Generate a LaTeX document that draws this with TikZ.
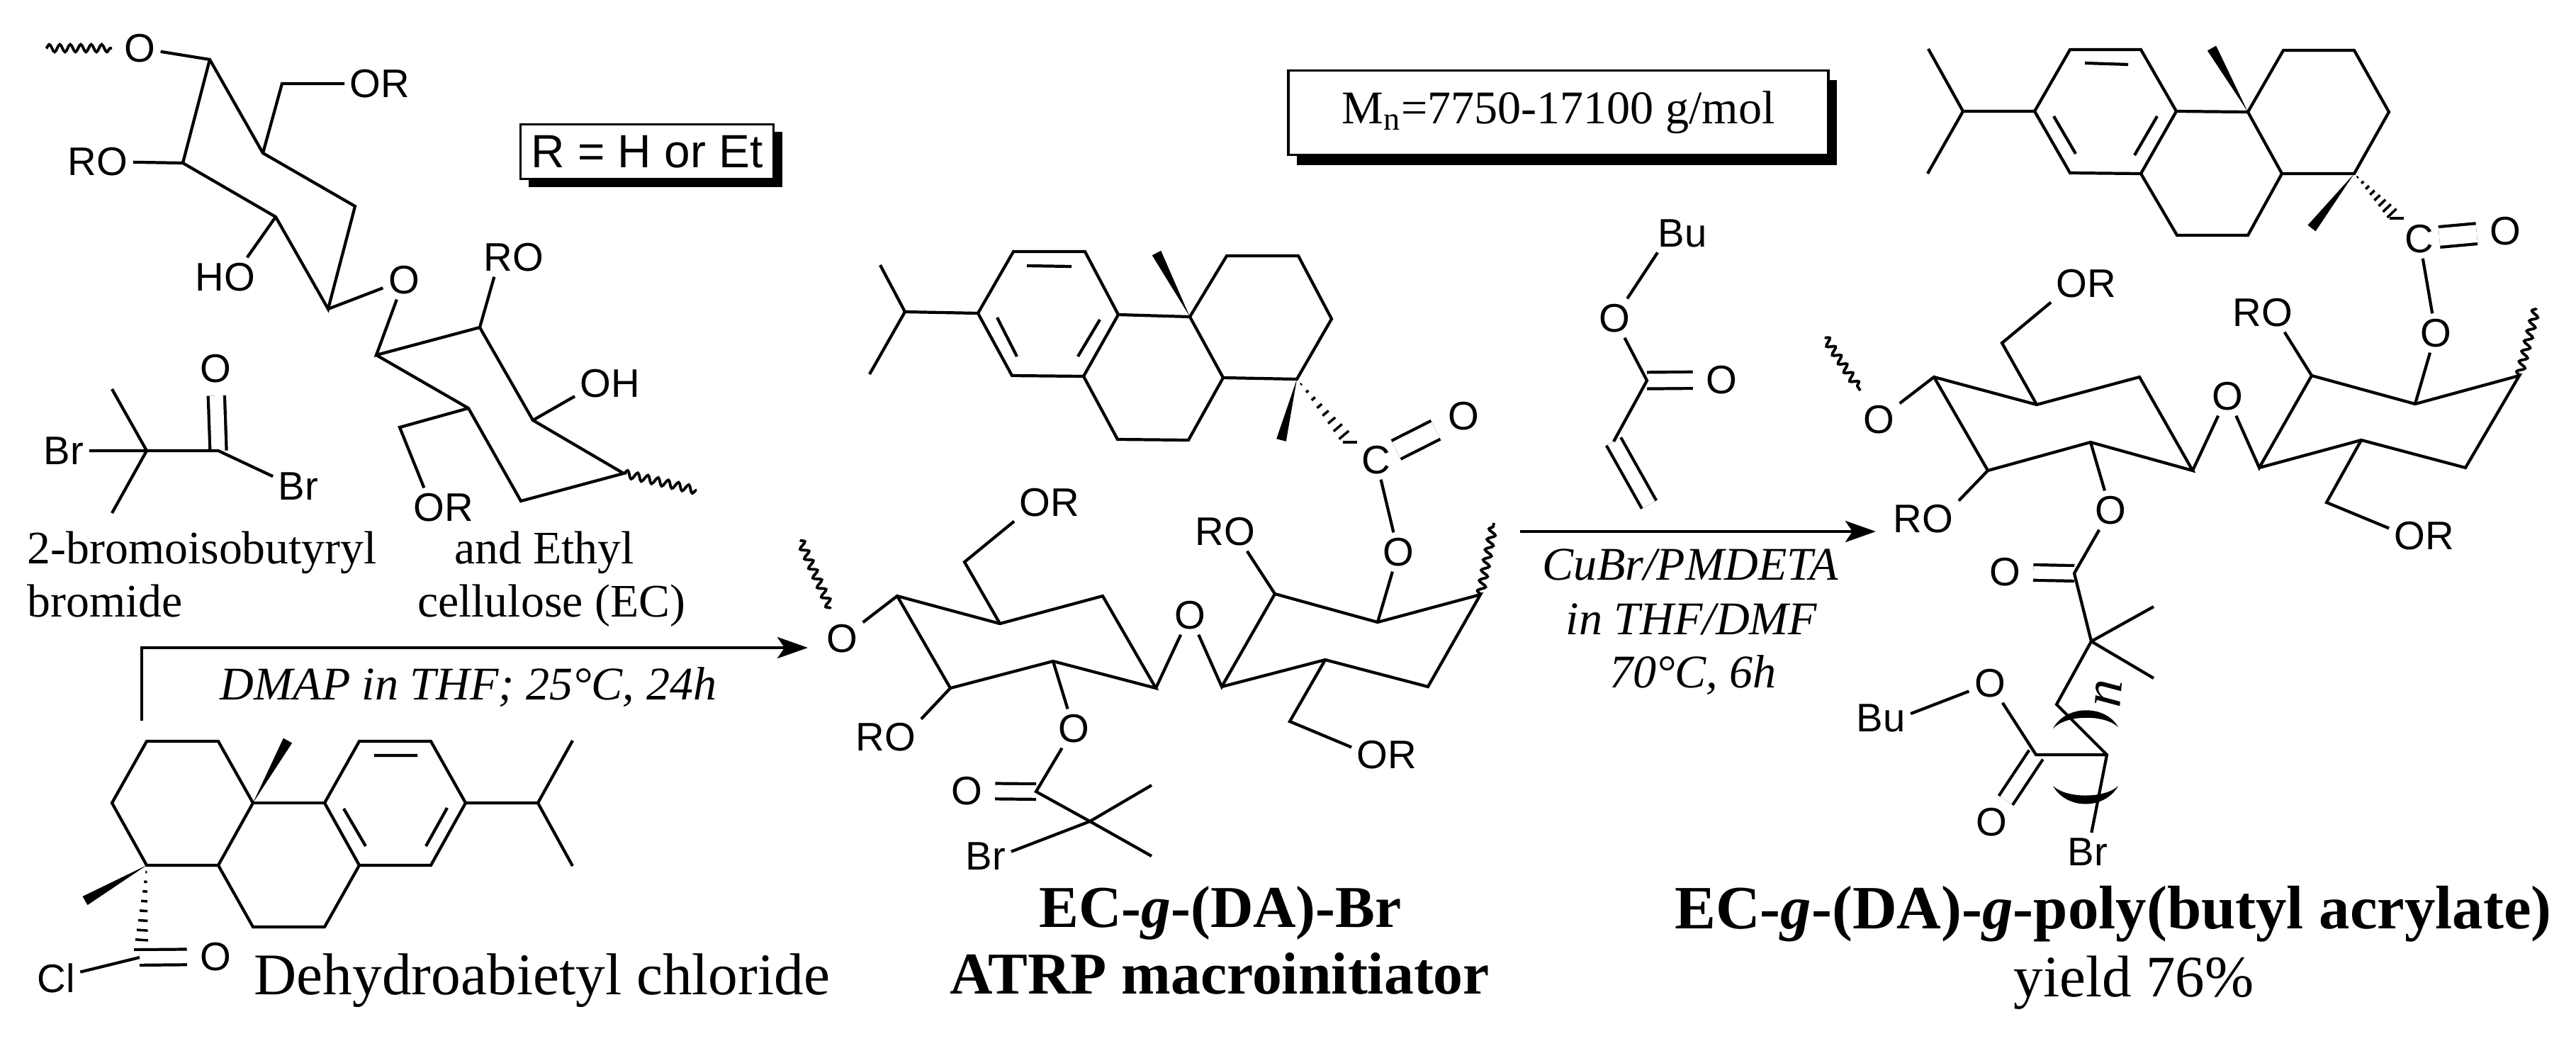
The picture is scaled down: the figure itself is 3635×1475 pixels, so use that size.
\documentclass[tikz,border=0pt]{standalone}
\usepackage{fontspec}
\setmainfont{Liberation Serif}
\setsansfont{Liberation Sans}
\usetikzlibrary{calc,arrows.meta,shadows,decorations.pathmorphing}

\newcommand{\wedgebond}[3]{\fill (#1) -- ($(#2)!#3!90:(#1)$) -- ($(#2)!#3!-90:(#1)$) -- cycle;}
\newcommand{\hashbond}[2]{
  \foreach \t in {0,...,8} {
    \pgfmathsetmacro\hw{0.3+\t*0.32}
    \path (#1) -- (#2) coordinate[pos=0.08+\t*0.115] (hashp);
    \draw[line width=1pt] ($(hashp)!\hw pt!90:(#2)$) -- ($(hashp)!\hw pt!-90:(#2)$);
  }}

\begin{document}
\begin{tikzpicture}[x=0.01cm, y=-0.01cm,
      bond/.style={line width=1.2pt},
      dbl/.style={line width=1.2pt, double, double distance=#1, shorten >=3pt},
      dbl/.default=5.4pt,
      wavy/.style={line width=1.1pt, decorate, decoration={snake, segment length=4.2pt, amplitude=1.5pt}},
      atom/.style={inner sep=2pt, font=\sffamily\fontsize{16}{18}\selectfont},
      caption/.style={inner sep=0pt, anchor=base, font=\fontsize{18.7}{22}\selectfont},
      condition/.style={inner sep=0pt, anchor=base, font=\itshape\fontsize{18.8}{22}\selectfont},
      title/.style={inner sep=0pt, anchor=base, font=\bfseries\fontsize{23.8}{28}\selectfont},
      infobox/.style={draw, fill=white, line width=1pt, inner sep=0pt, minimum width=#1},
      rxn/.style={line width=1.3pt, -{Stealth[length=0.43cm, width=0.3cm, inset=0.1cm]}}]
    \useasboundingbox (0,0) rectangle (3635,1475);

    % carbon positions of the three ring systems
    \foreach \n/\x/\y in {
      dach/759/1133, dam1/808/1045, dam2/808/1222, dar1/657/1133, dar2/608/1046, dar3/507/1046, dar4/458/1133, dar5/507/1221, dar6/608/1221,
      dai1a/589/1066, dai1b/528/1066, dai2a/631/1140, dai2b/601/1194, dai3a/485/1141, dai3b/516/1194,
      daq/357/1133, daqm/406/1045, das1/308/1046, das2/207/1046, das3/158/1133, das4/207/1221, das5/308/1221, dat1/357/1308, dat2/458/1308, damw/120/1271, dahb/199/1340,
      dbch/1277/440, dbm1/1242/374, dbm2/1227/528, dbr1/1380/442, dbr2/1430/355, dbr3/1531/355, dbr4/1578/444, dbr5/1529/531, dbr6/1428/530,
      dbi1a/1449/375, dbi1b/1512/376, dbi2a/1407/448, dbi2b/1435/503, dbi3a/1552/451, dbi3b/1521/503,
      dbq/1679/447, dbqm/1632/357, dbs1/1731/361, dbs2/1832/361, dbs3/1879/450, dbs4/1830/535, dbs5/1726/533, dbt1/1677/621, dbt2/1577/620, dbmw/1808/621, dbhb/1905/624,
      dcch/2770/157, dcm1/2721/69, dcm2/2720/245, dcr1/2871/157, dcr2/2921/70, dcr3/3021/70, dcr4/3071/157, dcr5/3021/245, dcr6/2921/244,
      dci1a/2942/89, dci1b/3003/91, dci2a/2898/164, dci2b/2929/217, dci3a/3044/164, dci3b/3012/219,
      dcq/3172/158, dcqm/3121/68, dcs1/3222/71, dcs2/3322/71, dcs3/3371/158, dcs4/3322/245, dcs5/3220/245, dct1/3172/332, dct2/3072/332, dcmw/3262/322, dchb/3382/308,
      bwa/1129/762, bwb/1172/859, bd1/1266/841, bd2/1411/880, bd3/1556/841, bd4/1631/971, bd5/1486/933, bd6/1341/971, bdm/1361/793,
      be1/1724/969, be2/1799/838, be3/1944/878, be4/2089/839, be5/2015/969, be6/1870/931, bem/1820/1018, bwc/2108/738,
      cwa/2575/476, cwb/2625/551, cd1/2729/532, cd2/2874/571, cd3/3019/532, cd4/3094/664, cd5/2950/624, cd6/2805/664, cdm/2825/484,
      ce1/3188/660, ce2/3262/530, ce3/3408/570, ce4/3555/530, ce5/3479/660, ce6/3332/621, cem/3283/709, cwc/3579/435,
      awa/65/68, awb/158/68, ac1/296/84, ac2/371/216, acm/398/118, ac3/501/291, ac4/463/436, ac5/389/306, ac6/258/230,
      ac7/531/501, ac8/677/462, ac9/752/593, ac10/880/668, ac11/735/707, ac12/661/576, acn/564/603, awc/983/692,
      brq/207/636, brm1/158/549, brm2/158/724, brc/308/636,
      dacarb/197/1351, arrowa/200/1017, arrowb/200/914, arrowc/1140/914, arrowd/2145/750, arrowe/2647/750,
      vinc/2324/537, vinb/2277/623, vind/2327/712,
      bk/1462/1117, bq/1538/1159, bqa/1625/1108, bqb/1625/1208,
      ck/2927/809, cq/2951/905, cqa/3039/856, cqb/3039/957, cn/2902/994, cp/2973/1065, cu/2873/1065}
      \coordinate (\n) at (\x,\y);

    % atom labels
    \foreach \n/\t/\x/\y in {
      ao1/O/197/68, aor1/OR/536/118, aro1/RO/138/228, aho/HO/318/391, ao2/O/570/395, aro2/RO/725/363, aoh/OH/861/541, aor2/OR/626/716,
      brbr1/Br/90/636, brbr2/Br/421/686, bro/O/304/520,
      dao/O/304/1350, dacl/Cl/79/1380,
      bo1/O/1188/901, bor1/OR/1481/709, bro1/RO/1250/1040, bol/O/1679/868, bob/O/1515/1028, bro2/RO/1729/750, boc/O/1973/779, bor2/OR/1957/1065,
      dbc/C/1942/649, dbo/O/2065/587,
      bko/O/1364/1116, bbr/Br/1391/1208,
      co1/O/2651/592, cor1/OR/2944/400, cro1/RO/2714/732, col/O/3143/559, cob/O/2978/720, cro2/RO/3193/441, coc/O/3437/470, cor2/OR/3421/756,
      dcc/C/3414/337, dco/O/3535/326,
      cko/O/2829/807, cbr/Br/2946/1202, cuo/O/2808/964, cubu/Bu/2654/1013, cuk/O/2810/1160,
      vinbu/Bu/2374/329, vino/O/2278/449, vink/O/2429/536}
      \node[atom] (\n) at (\x,\y) {\t};

    % double bonds go first so that the single bonds lie over them
    \draw[dbl] (brc) -- (bro);
    \draw[dbl=5pt] (dacarb) -- (dao);
    \draw[dbl=7pt] (dbc) -- (dbo);
    \draw[dbl=7pt] (dcc) -- (dco);
    \draw[dbl] (vinc) -- (vink);
    \draw[dbl,shorten >=0pt] (vinb) -- (vind);
    \draw[dbl=5pt] (bk) -- (bko);
    \draw[dbl=5pt] (ck) -- (cko);
    \draw[dbl,shorten >=1pt] (cu) -- (cuk);

    % dehydroabietyl units
    \foreach \m in {da,db,dc} {
      \draw[bond] (\m r1) -- (\m r2) -- (\m r3) -- (\m r4) -- (\m r5) -- (\m r6) -- cycle;
      \draw[bond] (\m i1a) -- (\m i1b) (\m i2a) -- (\m i2b) (\m i3a) -- (\m i3b);
      \draw[bond] (\m m1) -- (\m ch) -- (\m m2) (\m ch) -- (\m r1);
      \draw[bond] (\m r4) -- (\m q);
      \draw[bond] (\m q) -- (\m s1) -- (\m s2) -- (\m s3) -- (\m s4) -- (\m s5) -- cycle;
      \draw[bond] (\m s5) -- (\m t1) -- (\m t2) -- (\m r5);
      \wedgebond{\m q}{\m qm}{2pt}
      \wedgebond{\m s4}{\m mw}{2pt}
      \hashbond{\m s4}{\m hb}
    }
    \draw[bond] (dacl) -- (dacarb);
    \draw[bond] (dbc) -- (boc);
    \draw[bond] (dcc) -- (coc);

    % cellulose backbones of the two products
    \foreach \m in {b,c} {
      \draw[wavy] (\m wa) -- (\m wb);
      \draw[wavy] (\m e4) -- (\m wc);
      \draw[bond] (\m o1) -- (\m d1) -- (\m d2) -- (\m d3) -- (\m d4) -- (\m d5) -- (\m d6) -- (\m d1);
      \draw[bond] (\m d2) -- (\m dm) -- (\m or1.208);
      \draw[bond] (\m d6) -- (\m ro1.27);
      \draw[bond] (\m d5) -- (\m ob);
      \draw[bond] (\m d4) -- (\m ol) -- (\m e1) -- (\m e2) -- (\m e3) -- (\m e4) -- (\m e5) -- (\m e6) -- (\m e1);
      \draw[bond] (\m e2) -- (\m ro2.318);
      \draw[bond] (\m e3) -- (\m oc);
      \draw[bond] (\m e6) -- (\m em) -- (\m or2.168);
      \draw[bond] (\m ob) -- (\m k) -- (\m q) -- (\m qa) (\m q) -- (\m qb);
    }
    \draw[bond] (bq) -- (bbr.10);

    % cellulose of the starting material
    \draw[wavy] (awa) -- (awb);
    \draw[wavy] (ac10) -- (awc);
    \draw[bond] (ao1) -- (ac1) -- (ac2) -- (ac3) -- (ac4) -- (ac5) -- (ac6) -- (ac1);
    \draw[bond] (ac2) -- (acm) -- (aor1);
    \draw[bond] (ac6) -- (aro1);
    \draw[bond] (ac5) -- (aho.42);
    \draw[bond] (ac4) -- (ao2) -- (ac7) -- (ac8) -- (ac9) -- (ac10) -- (ac11) -- (ac12) -- (ac7);
    \draw[bond] (ac8) -- (aro2.225);
    \draw[bond] (ac9) -- (aoh.200);
    \draw[bond] (ac12) -- (acn) -- (aor2.135);

    % acid bromide
    \draw[bond] (brbr1) -- (brq) -- (brc) -- (brbr2.159);
    \draw[bond] (brm1) -- (brq) -- (brm2);

    % butyl acrylate and the grown chain
    \draw[bond] (vinbu.218) -- (vino) -- (vinc) -- (vinb);
    \draw[bond] (cq) -- (cn) -- (cp) -- (cbr);
    \draw[bond] (cp) -- (cu) -- (cuo) -- (cubu.8);
    \fill (2897,1028) .. controls (2915,994) and (2971,994) .. (2989,1026) .. controls (2970,1008) and (2916,1008) .. cycle;
    \fill (2897,1109) .. controls (2916,1143) and (2970,1143) .. (2989,1109) .. controls (2970,1127) and (2916,1127) .. cycle;
    \node[inner sep=0pt, rotate=85, font=\itshape\fontsize{22}{24}\selectfont] (repeat) at (2975,979) {n};

    % reaction arrows
    \draw[rxn] (arrowa) -- (arrowb) -- (arrowc);
    \draw[rxn] (arrowd) -- (arrowe);

    % boxes
    \node[infobox=3.57cm, minimum height=0.77cm, drop shadow={shadow xshift=0.12cm, shadow yshift=-0.11cm, opacity=1, fill=black}, font=\sffamily\fontsize{18.7}{22}\selectfont] (rbox) at (913,214) {R = H or Et};
    \node[infobox=7.62cm, minimum height=1.19cm, drop shadow={shadow xshift=0.12cm, shadow yshift=-0.14cm, opacity=1, fill=black}, font=\fontsize{18.8}{22}\selectfont] (mnbox) at (2199,159) {M\textsubscript{n}=7750-17100 g/mol};

    % captions
    \node[caption, anchor=base west] (bromname) at (38,795) {2-bromoisobutyryl};
    \node[caption, anchor=base west] (bromnameb) at (38,870) {bromide};
    \node[caption] (ecname) at (768,795) {and Ethyl};
    \node[caption] (ecnameb) at (778,870) {cellulose (EC)};
    \node[condition] (dmap) at (661,987) {DMAP in THF; 25°C, 24h};
    \node[caption, anchor=base west, font=\fontsize{23.7}{28}\selectfont] (daname) at (358,1403) {Dehydroabietyl chloride};
    \node[title] (macro) at (1722,1308) {EC-\textit{g}-(DA)-Br};
    \node[title] (macrob) at (1721,1402) {ATRP macroinitiator};
    \node[condition] (cubr) at (2385,818) {CuBr/PMDETA};
    \node[condition] (solv) at (2387,895) {in THF/DMF};
    \node[condition] (temp) at (2389,970) {70°C, 6h};
    \node[title, font=\bfseries\fontsize{24.7}{28}\selectfont] (product) at (2982,1310) {EC-\textit{g}-(DA)-\textit{g}-poly(butyl acrylate)};
    \node[caption, font=\fontsize{23.6}{28}\selectfont] (yield) at (3011,1406) {yield 76\%};
\end{tikzpicture}
\end{document}
